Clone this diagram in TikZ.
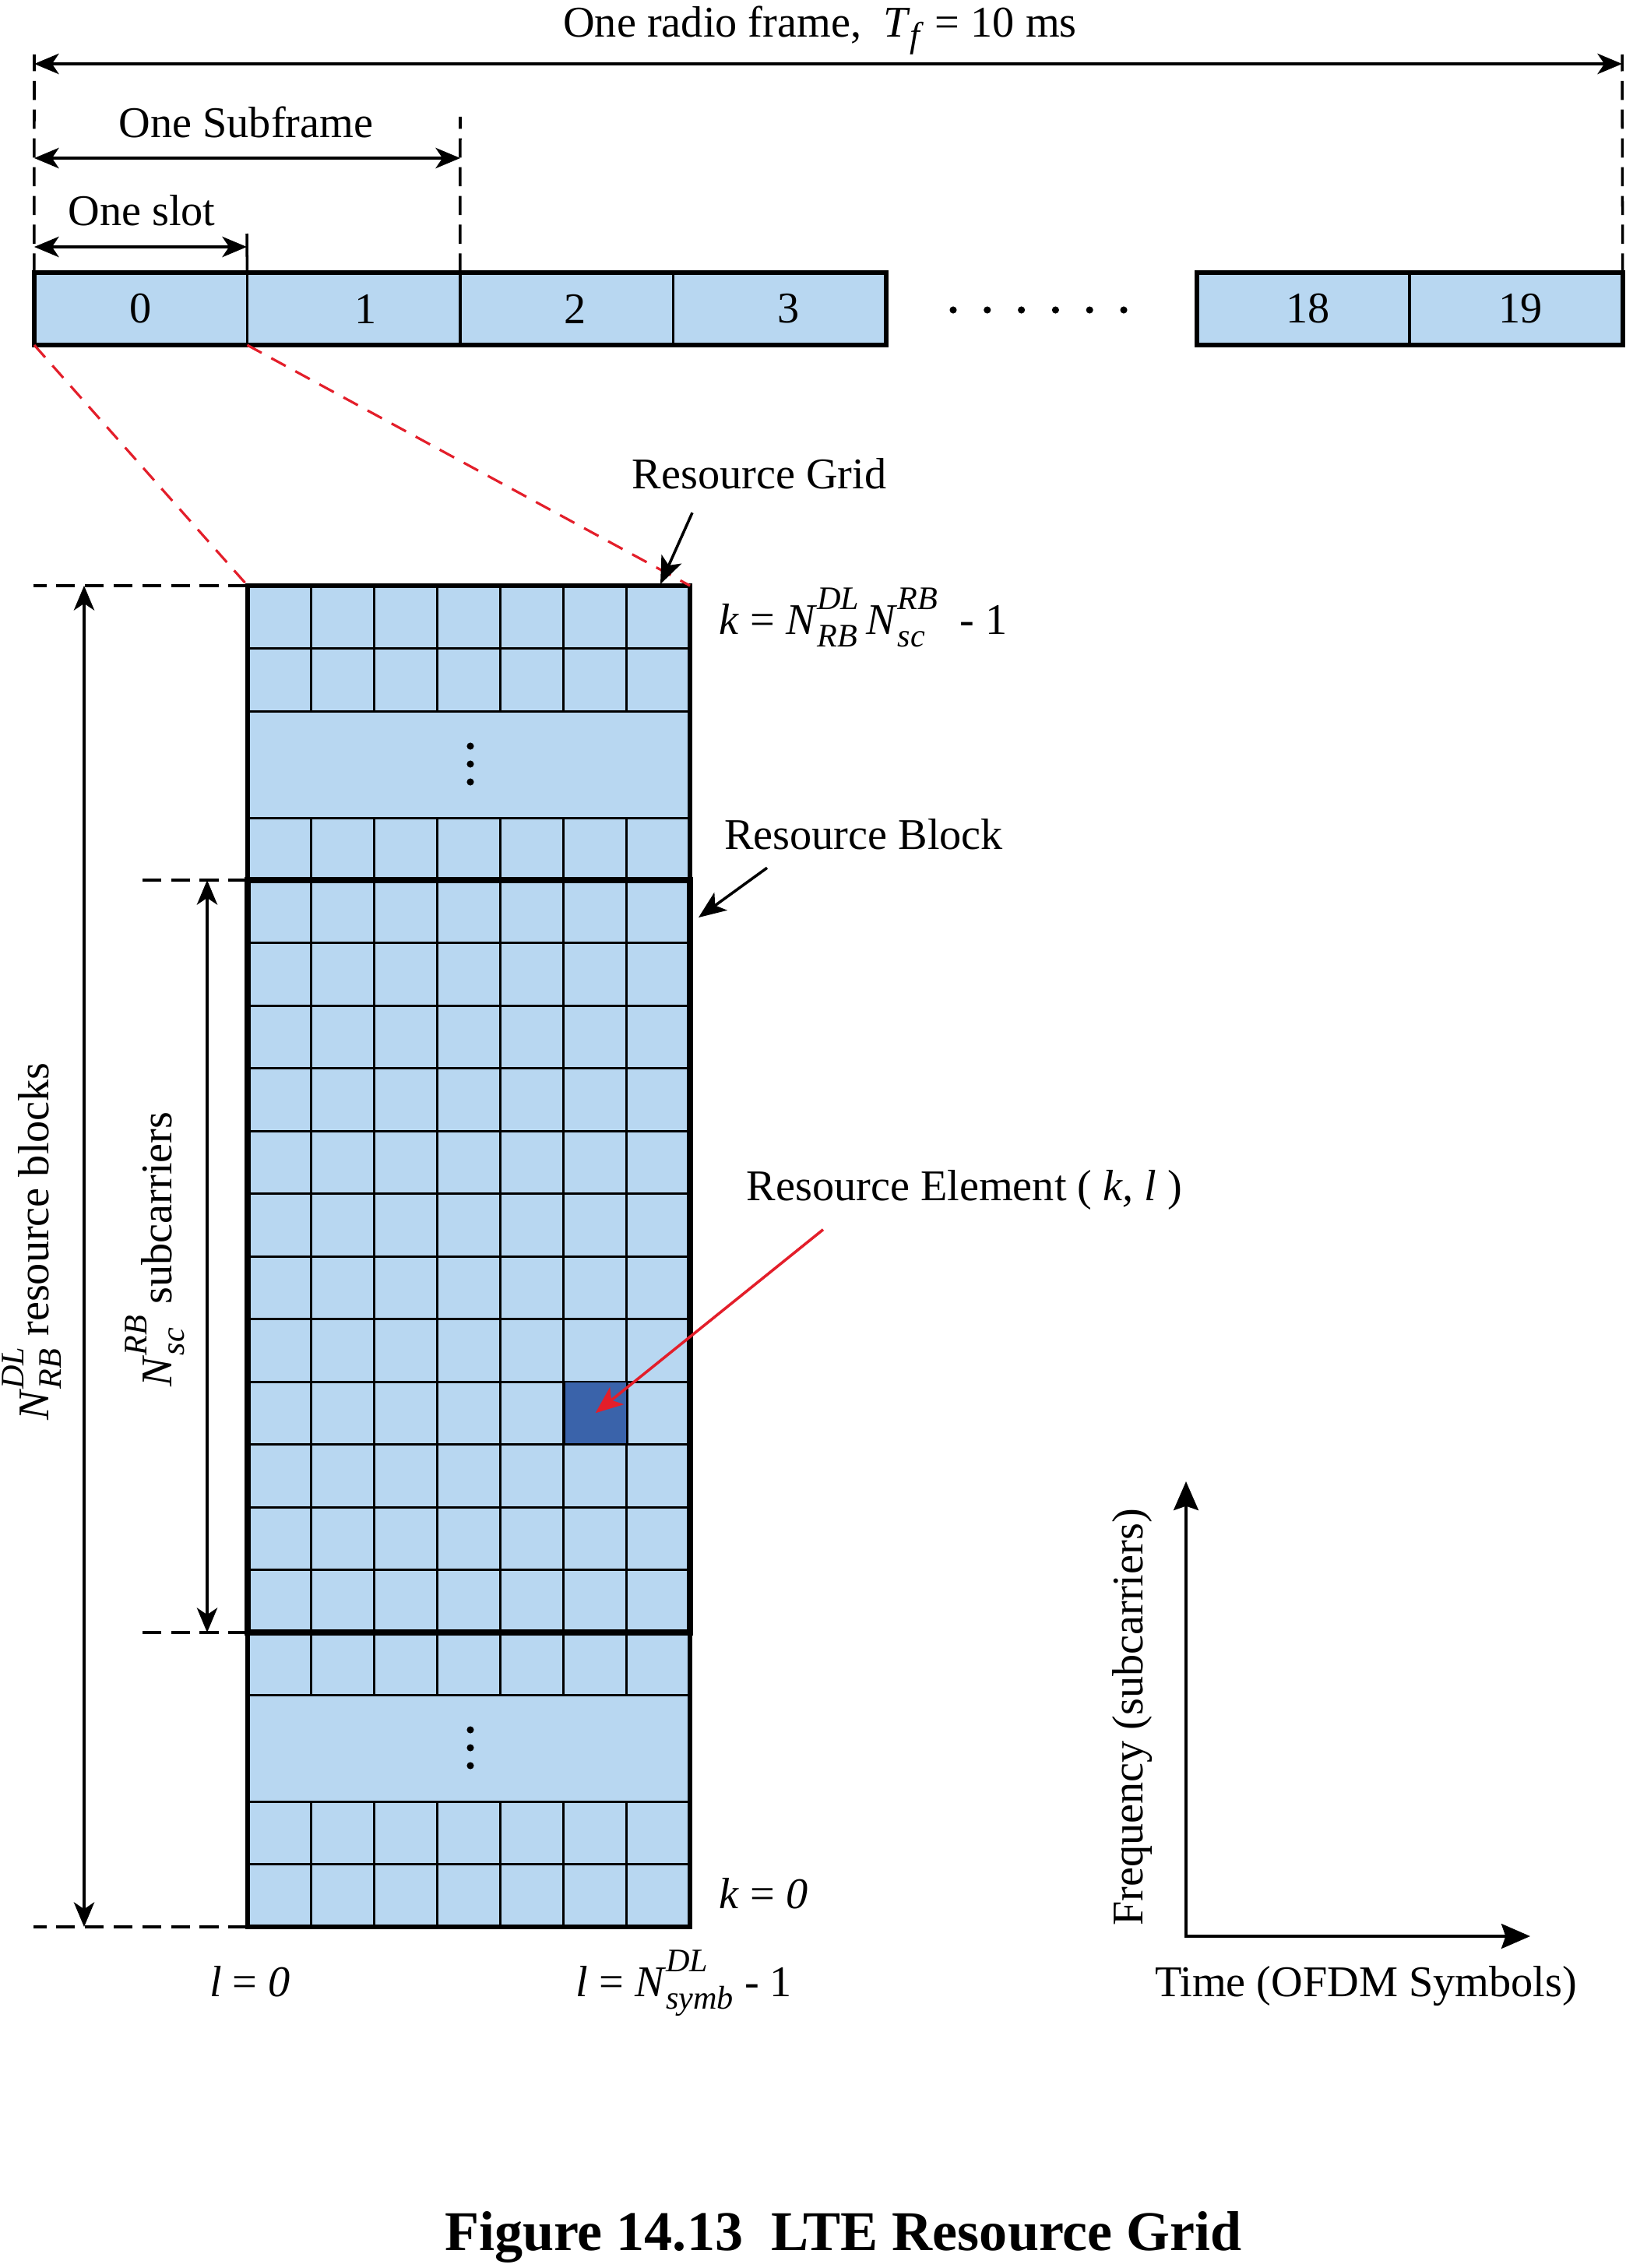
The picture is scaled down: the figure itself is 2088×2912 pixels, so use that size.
\documentclass[tikz,border=0pt]{standalone}
\usepackage{fontspec}
\setmainfont{Liberation Serif}
\usetikzlibrary{arrows.meta,positioning}

\definecolor{cellblue}{RGB}{184,215,241}
\definecolor{reblue}{RGB}{58,99,170}
\definecolor{pointred}{RGB}{227,30,42}

% italic N with stacked upper and lower index
\newcommand{\Nidx}[2]{\textit{N}\raisebox{-4.6pt}{\fontsize{12}{13.6}\selectfont
  \begin{tabular}[b]{@{}l@{}}\textit{#1}\\\textit{#2}\end{tabular}}}

\begin{document}
\begin{tikzpicture}[x=0.01cm,y=-0.01cm,
    lbl/.style={font=\fontsize{16}{19}\selectfont,inner sep=0pt},
    slotbox/.style={draw,line width=1pt,fill=cellblue,minimum width=2.733cm,minimum height=0.93cm,
      outer sep=0pt,inner sep=0pt,font=\fontsize{16}{19}\selectfont},
    cell/.style={draw,fill=cellblue,line width=0.85pt},
    guide/.style={line width=1pt,dash pattern=on 7pt off 3.5pt},
    zoomline/.style={pointred,line width=0.9pt,dash pattern=on 6pt off 4pt},
    dim/.style={line width=1pt,{Stealth[length=9pt,width=7.5pt,inset=2.5pt]}-{Stealth[length=9pt,width=7.5pt,inset=2.5pt]}},
    callout/.style={line width=1pt,-{Stealth[length=10pt,width=8pt,inset=2.5pt]}},
    axis/.style={line width=1.3pt,{Stealth[length=10.5pt,width=9pt,inset=1.5pt]}-{Stealth[length=10.5pt,width=9pt,inset=1.5pt]}}]
  \useasboundingbox (0,0) rectangle (2088,2912);

  % radio frame: slots
  \node[slotbox] (s0) at (180.7,396.5) {0};
  \node[slotbox,right=0pt of s0] (s1) {\hspace{8.5pt}1};
  \node[slotbox,right=0pt of s1] (s2) {\hspace{6.3pt}2};
  \node[slotbox,right=0pt of s2] (s3) {\hspace{6.3pt}3};
  \node[slotbox] (s18) at (1673.5,396.5) {\hspace{3.4pt}18};
  \node[slotbox,right=0pt of s18] (s19) {\hspace{3.4pt}19};
  \draw[line width=1.6pt] (s0.south west) rectangle (s3.north east);
  \draw[line width=1.6pt] (s18.south west) rectangle (s19.north east);
  \foreach \i in {0,...,5}
    \fill (1224+\i*43.8,398) circle[radius=1.3pt];

  % time spans
  \coordinate (frameL) at (44,82);
  \coordinate (frameR) at (2083,82);
  \coordinate (subR) at (591,203);
  \coordinate (slotR) at (317,317);
  \draw[guide] (s0.north west) -- (44,70);
  \draw[guide] (s2.north west) -- (591,150);
  \draw[guide] (s19.north east) -- (2083,70);
  \draw[line width=1pt] (s1.north west) -- (317,300);
  \draw[dim] (frameL) -- (frameR);
  \draw[dim] (frameL |- subR) -- (subR);
  \draw[dim] (frameL |- slotR) -- (slotR);
  \node[lbl,anchor=base] (frame) at (1053,48) {One radio frame,\ \ \textit{T}\raisebox{-3.5pt}{\fontsize{13}{13}\selectfont\textit{f}} = 10 ms};
  \node[lbl,anchor=base] (subframe) at (316,177) {One Subframe};
  \node[lbl,anchor=base] (slot) at (182,289) {One slot};

  % resource grid
  \foreach \ry in {752,832.5,1050,1130,1210.5,1291,1371.5,1452,1532.5,1613,1693.5,1774,1854.5,1935,2015.5,2096,2313,2393.5}
    \foreach \c in {0,...,6}
      \draw[cell] ({318+81.14*\c},\ry) rectangle ++(81.14,80.5);
  \draw[cell] (318,913) rectangle (886,1050);
  \draw[cell] (318,2176) rectangle (886,2313);
  \foreach \d in {-23,0,23} {
    \fill (604,981+\d) circle[radius=1.3pt];
    \fill (604,2244+\d) circle[radius=1.3pt];
  }
  \node[draw,fill=reblue,line width=0.85pt,minimum width=0.8114cm,minimum height=0.805cm,inner sep=0pt] (re) at (764.6,1814.25) {};
  \draw[line width=1.7pt] (318,752) rectangle (886,2474);
  \draw[line width=2.4pt] (318,1130) rectangle (886,2096);

  \coordinate (gnw) at (318,752);
  \coordinate (gne) at (886,752);
  \coordinate (gsw) at (318,2474);
  \coordinate (rbnw) at (318,1130);
  \coordinate (rbsw) at (318,2096);
  \draw[zoomline] (s0.south west) -- (gnw);
  \draw[zoomline] (s0.south east) -- (gne);

  % vertical spans
  \coordinate (gtop) at (43,752);
  \coordinate (gbot) at (43,2474);
  \coordinate (rbtop) at (182,1130);
  \coordinate (rbbot) at (182,2096);
  \draw[guide] (gnw) -- (gtop);
  \draw[guide] (gsw) -- (gbot);
  \draw[guide] (rbnw) -- (rbtop);
  \draw[guide] (rbsw) -- (rbbot);
  \draw[dim] (108,752) -- (108,2474);
  \draw[dim] (266,1130) -- (266,2096);
  \node[lbl,anchor=base,rotate=90] (nrb) at (62,1594) {\Nidx{DL}{RB} resource blocks};
  \node[lbl,anchor=base,rotate=90] (nsc) at (220,1604) {\Nidx{RB}{sc} subcarriers};

  % labels
  \node[lbl,anchor=base] (rg) at (975,627) {Resource Grid};
  \coordinate (rgtip) at (848,750);
  \draw[callout] (rg.south) ++(-86,30) -- (rgtip);
  \node[lbl,anchor=base] (rb) at (1109,1090) {Resource Block};
  \coordinate (rbtip) at (897,1178);
  \draw[callout] (rb.south) ++(-124,23) -- (rbtip);
  \node[lbl,anchor=base west] (rel) at (958,1541) {Resource Element ( \textit{k, l} )};
  \draw[callout,pointred] (rel.south west) ++(99,25) -- (re.center);

  \node[lbl,anchor=base west] (ktop) at (923,814) {\textit{k} = \Nidx{DL}{RB}\,\Nidx{RB}{sc}\ \ - 1};
  \node[lbl,anchor=base west] (kbot) at (923,2450) {\textit{k} = \textit{0}};
  \node[lbl,anchor=base] (lfirst) at (321,2563) {\textit{l} = \textit{0}};
  \node[lbl,anchor=base west] (llast) at (739,2563) {\textit{l} = \Nidx{DL}{symb}\ - 1};

  % frequency / time axes
  \coordinate (orig) at (1523,2486);
  \coordinate (fq) at (1523,1902);
  \coordinate (tm) at (1965,2486);
  \draw[axis] (fq) -- (orig) -- (tm);
  \node[lbl,anchor=base,rotate=90] (freq) at (1467,2205) {Frequency (subcarriers)};
  \node[lbl,anchor=base] (time) at (1754,2563) {Time (OFDM Symbols)};

  \node[anchor=base,inner sep=0pt,font=\fontsize{20.5}{24}\selectfont\bfseries] (title) at (1083,2889) {Figure 14.13\ \ LTE Resource Grid};
\end{tikzpicture}
\end{document}
